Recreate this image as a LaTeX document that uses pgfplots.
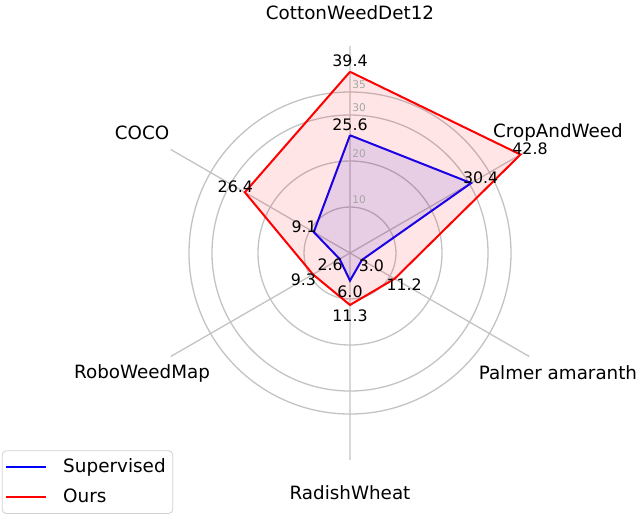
\documentclass[border=0pt]{standalone}
\usepackage{fontspec}
\setmainfont{DejaVu Sans}
\usepackage{pgfplots}
\usepgfplotslibrary{polar}
\pgfplotsset{compat=1.18}
\definecolor{gridgray}{RGB}{195,195,195}
\definecolor{ticklab}{RGB}{165,165,165}
\definecolor{legframe}{RGB}{210,210,210}
\tikzset{
    catlab/.style={font=\fontsize{9.15}{11}\selectfont, anchor=center},
    ticklabel/.style={font=\fontsize{5.3}{6}\selectfont, text=ticklab, anchor=west,
        inner sep=0pt, xshift=1pt, yshift=3.9pt},
}
\begin{document}
\begin{tikzpicture}
\begin{polaraxis}[
    width=207pt, height=207pt, scale only axis,
    xmin=0, xmax=360, ymin=0, ymax=45,
    xtick={30,90,150,210,270,330},
    ytick={10,20,30,35},
    xticklabel=\empty, yticklabel=\empty,
    major tick length=0pt,
    grid=major,
    major grid style={gridgray, line width=0.65pt},
    axis line style={draw=none},
    clip=false,
    /pgf/number format/assume math mode=true,
    legend cell align=left,
    legend image code/.code={\draw[#1, fill=none] (0pt,0pt) -- (20pt,0pt);
        \path (26pt,0pt);},
    legend style={at={(-0.341,-0.130)}, anchor=south west,
        draw=legframe, rounded corners=2pt, row sep=2.5pt,
        inner xsep=1.5pt, inner ysep=2pt,
        font=\fontsize{9.2}{11}\selectfont},
]
\coordinate (O) at (axis cs:0,0);

% Supervised
\addplot[blue, line width=1pt, fill=blue, fill opacity=0.1, mark=none]
    coordinates {(90,25.6) (30,30.4) (330,3.0) (270,6.0) (210,2.6) (150,9.1) (90,25.6)};
\addlegendentry{Supervised}
% Ours
\addplot[red, line width=1pt, fill=red, fill opacity=0.1, mark=none]
    coordinates {(90,39.4) (30,42.8) (330,11.2) (270,11.3) (210,9.3) (150,26.4) (90,39.4)};
\addlegendentry{Ours}

% value labels
\pgfplotsset{vallab/.style={draw=none, mark=none, forget plot,
    nodes near coords, point meta=explicit,
    visualization depends on={x \as \ang},
    nodes near coords style={font=\fontsize{7.9}{9}\selectfont, text=black,
        anchor=center, inner sep=0pt, shift={(\ang:5.5pt)},
        /pgf/number format/.cd, fixed, fixed zerofill, precision=1}}}
\addplot[vallab] coordinates {(90,25.6) [25.6] (30,30.4) [30.4] (330,3.0) [3.0]
    (270,6.0) [6.0] (210,2.6) [2.6] (150,9.1) [9.1]};
\addplot[vallab] coordinates {(90,39.4) [39.4] (30,42.8) [42.8] (330,11.2) [11.2]
    (270,11.3) [11.3] (210,9.3) [9.3] (150,26.4) [26.4]};

% category labels
\node[catlab] at (axis cs:90,52.2) {CottonWeedDet12};
\node[catlab] at (axis cs:30,52.2) {CropAndWeed};
\node[catlab] at (axis cs:330,52.2) {Palmer amaranth};
\node[catlab] at (axis cs:270,52.2) {RadishWheat};
\node[catlab] at (axis cs:210,52.2) {RoboWeedMap};
\node[catlab] at (axis cs:150,52.2) {COCO};
% radial tick labels
\node[ticklabel] at (axis cs:90,10) {10};
\node[ticklabel] at (axis cs:90,20) {20};
\node[ticklabel] at (axis cs:90,30) {30};
\node[ticklabel] at (axis cs:90,35) {35};
\end{polaraxis}
\pgfresetboundingbox
\path[use as bounding box] (O) ++(-175pt,-131.5pt) rectangle ++(320pt,258pt);
\end{tikzpicture}
\end{document}
